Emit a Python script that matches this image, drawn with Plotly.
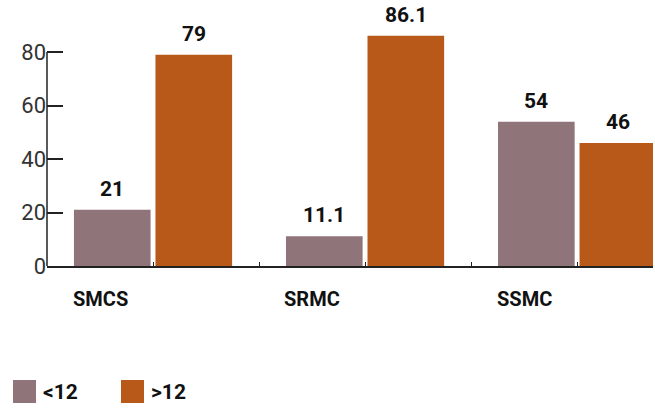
import plotly.graph_objects as go

categories = ["SMCS", "SRMC", "SSMC"]
series_names = ["<12", ">12"]
values_lt12 = [21, 11.1, 54]
values_gt12 = [79, 86.1, 46]
value_text_lt12 = ["21", "11.1", "54"]
value_text_gt12 = ["79", "86.1", "46"]
y_tick_vals = [0, 20, 40, 60, 80]
colors = ["#8F7579", "#B85819"]

FONT = "Roboto, sans-serif"
BARGAP = 0.231
xpos = list(range(len(categories)))

fig = go.Figure()
series = [
    (series_names[0], values_lt12, value_text_lt12, colors[0]),
    (series_names[1], values_gt12, value_text_gt12, colors[1]),
]
slot = (1 - BARGAP) / len(series)
for k, (name, vals, txt, col) in enumerate(series):
    fig.add_trace(go.Bar(
        x=xpos, y=vals, name=name, marker_color=col, marker_line_width=0,
        cliponaxis=True, showlegend=False,
    ))
    off = -(1 - BARGAP) / 2 + slot * (k + 0.5)
    for i, v in enumerate(vals):
        fig.add_annotation(x=xpos[i] + off, y=v, xref="x", yref="y", text=f"<b>{txt[i]}</b>",
                           showarrow=False, yanchor="bottom", yshift=7,
                           font=dict(family=FONT, size=21, color="#111111"))

# category labels (offset left of group centre)
for i, c in enumerate(categories):
    fig.add_annotation(x=i - 0.25, y=0, xref="x", yref="y", text=f"<b>{c}</b>",
                       showarrow=False, yanchor="top", yshift=-19,
                       font=dict(family=FONT, size=20, color="#111111"))

# y axis line only up to 80
fig.add_shape(type="line", xref="paper", yref="y", x0=0, x1=0, y0=0, y1=max(y_tick_vals),
              line=dict(color="#222222", width=1.5))

# manual legend
leg_px = [13, 121]
for i, (name, col) in enumerate(zip(series_names, colors)):
    x0 = (leg_px[i] - 47) / 606
    fig.add_shape(type="rect", xref="paper", yref="paper",
                  x0=x0, x1=x0 + 23 / 606,
                  y0=-(403 - 266) / 262, y1=-(380 - 266) / 262,
                  line_width=0, fillcolor=col)
    fig.add_annotation(xref="paper", yref="paper",
                       x=x0 + 28 / 606, y=-(392 - 266) / 262,
                       text=f"<b>{name}</b>", showarrow=False, xanchor="left", yanchor="middle",
                       font=dict(family=FONT, size=21, color="#111111"))

fig.update_layout(
    width=655, height=408,
    margin=dict(l=47, r=2, t=4, b=142),
    plot_bgcolor="white", paper_bgcolor="white",
    barmode="group", bargap=BARGAP, bargroupgap=0.06,
    xaxis=dict(range=[-0.5, 2.358], tickvals=[0, 0.5, 1, 1.5, 2], ticktext=[""] * 5,
               ticks="inside", ticklen=4, tickcolor="#222222", showline=True,
               linecolor="#222222", linewidth=1.5, showgrid=False, zeroline=False),
    yaxis=dict(range=[0, 98], tickvals=y_tick_vals, ticks="inside", ticklen=16,
               tickcolor="#222222", tickwidth=1.5, showline=False, showgrid=False,
               zeroline=False,
               tickfont=dict(family="Roboto, sans-serif", size=22, color="#333333", weight=400)),
)

fig.write_html("out.html")
